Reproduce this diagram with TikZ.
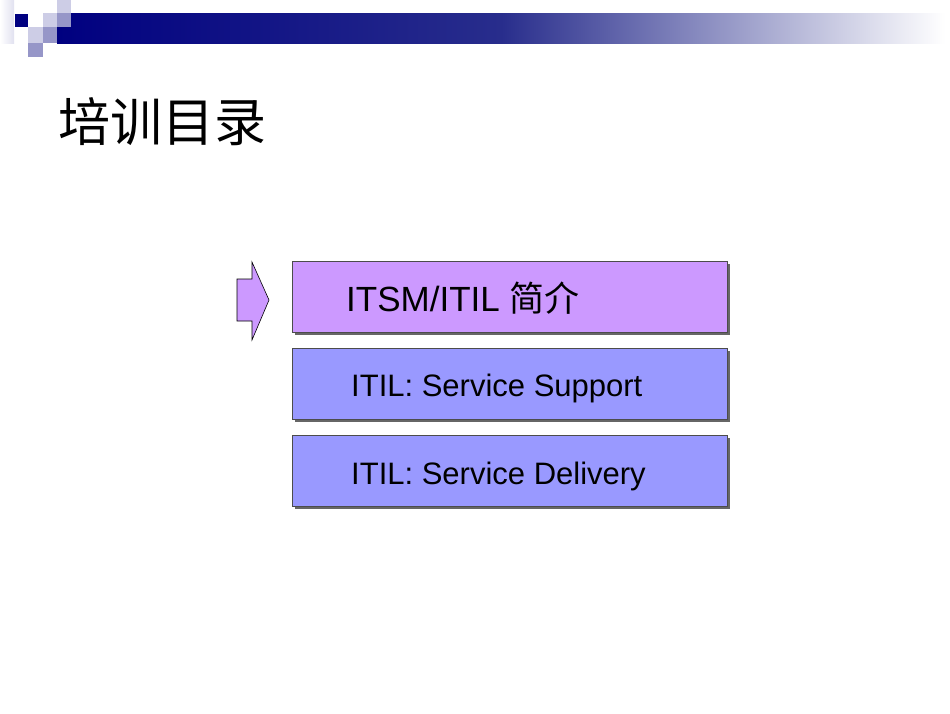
\documentclass[tikz,border=0pt]{standalone}
\usepackage{fontspec}
\setmainfont{Liberation Sans}
\newfontfamily\cjk{Noto Sans CJK SC}
\newfontfamily\cjkserif{Noto Sans CJK SC}
\begin{document}
\begin{tikzpicture}[x=1pt,y=-1pt,
  sq/.style={draw=white,line width=0.8pt},
  itembox/.style={draw=black!70,line width=0.6pt,minimum width=436pt,anchor=north west,inner sep=0pt},
  itemtext/.style={font=\fontsize{31}{31}\selectfont,anchor=west}]
\useasboundingbox (0,0) rectangle (950,713);
\fill[white] (0,0) rectangle (950,713);
% top bar
\shade[left color={rgb,255:red,0;green,0;blue,128}, right color=white, middle color={rgb,255:red,40;green,45;blue,140}] (57,13) rectangle (945,43);
\fill[left color=white,right color={rgb,255:red,225;green,225;blue,240}] (0,0) rectangle (14,43);
\fill[sq,fill={rgb,255:red,0;green,0;blue,128}] (14,13) rectangle (28,27);
\fill[fill={rgb,255:red,205;green,205;blue,230}] (43,13) rectangle (57,27);
\fill[fill={rgb,255:red,205;green,205;blue,230}] (57,0) rectangle (71,13);
\fill[fill={rgb,255:red,150;green,150;blue,200}] (57,13) rectangle (71,27);
\fill[fill={rgb,255:red,205;green,205;blue,230}] (28,27) rectangle (43,43);
\fill[fill={rgb,255:red,150;green,150;blue,200}] (43,27) rectangle (57,43);
\fill[fill={rgb,255:red,150;green,150;blue,200}] (28,43) rectangle (43,57);
% title
\node[anchor=west,inner sep=0pt,font=\cjk\fontsize{52}{52}\selectfont] (title) at (58,122) {培训目录};
% arrow
\draw[fill={rgb,255:red,204;green,153;blue,255},line width=0.6pt] (237,279) -- (252,279) -- (252,262) -- (269,300) -- (252,340) -- (252,321) -- (237,321) -- cycle;
% boxes
\foreach \y/\c in {261/{rgb,255:red,204;green,153;blue,255},348/{rgb,255:red,153;green,153;blue,255},435/{rgb,255:red,153;green,153;blue,255}}{
  \fill[black!60] (295,\y+3) rectangle (730,\y+74);
  \fill[fill=\c,draw=black!70,line width=0.6pt] (292,\y) rectangle (727,\y+71);
}
\node[itemtext,font=\fontsize{35}{35}\selectfont,inner sep=0pt] (b1) at (346,298) {ITSM/ITIL {\cjk 简介}};
\node[itemtext,inner sep=0pt] (b2) at (351,388) {ITIL: Service Support};
\node[itemtext,inner sep=0pt] (b3) at (351,476) {ITIL: Service Delivery};
\end{tikzpicture}
\end{document}
